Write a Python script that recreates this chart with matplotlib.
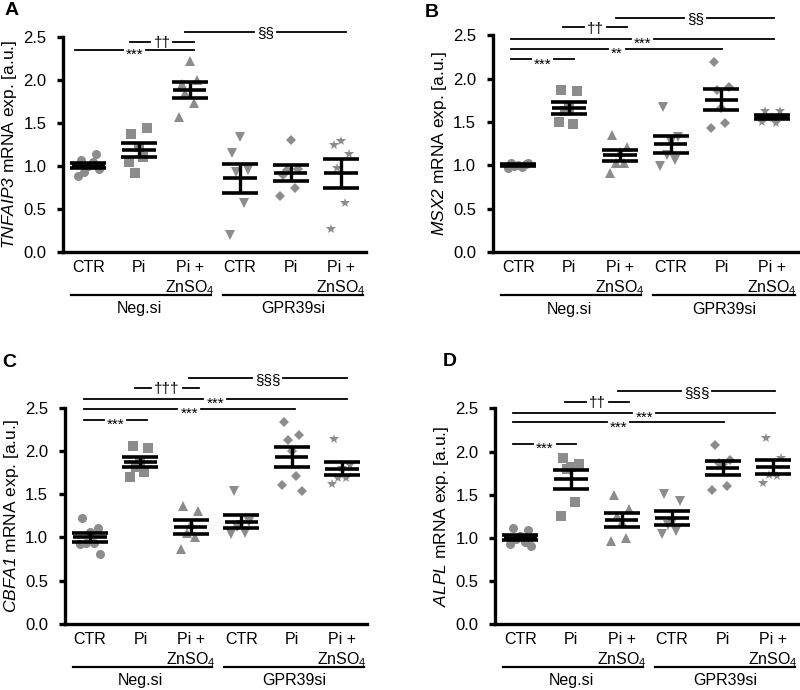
import numpy as np
import matplotlib.pyplot as plt

# Arial look-alike, gene names in italic through mathtext (sf slot = italic)
plt.rcParams['font.family'] = ['Liberation Sans', 'DejaVu Sans']
plt.rcParams['mathtext.fontset'] = 'custom'
plt.rcParams['mathtext.rm'] = 'Liberation Sans'
plt.rcParams['mathtext.it'] = 'Liberation Sans:italic'
plt.rcParams['mathtext.sf'] = 'Liberation Sans:italic'

# categories on the x axis (3 treatments for each siRNA group)
categories = ['CTR', 'Pi', 'Pi +\nZnSO$_4$', 'CTR', 'Pi', 'Pi +\nZnSO$_4$']
groups = ['Neg.si', 'GPR39si']
yticks = [0.0, 0.5, 1.0, 1.5, 2.0, 2.5]

# single replicates, one list per condition
tnfaip3 = [[1.0, 1.07, 1.14, 0.93, 1.05, 0.88, 0.97],
           [1.22, 1.37, 1.44, 0.92, 1.10, 1.05],
           [2.22, 1.95, 2.0, 1.85, 1.73, 1.57],
           [1.34, 1.15, 0.95, 0.93, 0.57, 0.20],
           [1.30, 0.90, 0.97, 0.95, 0.74, 0.65],
           [1.29, 1.24, 1.14, 0.98, 0.57, 0.27]]
msx2 = [[1.0, 1.02, 1.01, 0.99, 0.98, 0.97, 1.03],
        [1.66, 1.87, 1.86, 1.62, 1.48, 1.50],
        [1.15, 1.35, 1.21, 1.03, 1.03, 0.91],
        [1.27, 1.67, 1.33, 1.12, 1.06, 0.99],
        [1.66, 2.19, 1.90, 1.87, 1.49, 1.43],
        [1.56, 1.63, 1.62, 1.55, 1.49, 1.50]]
cbfa1 = [[1.06, 1.23, 1.11, 0.94, 0.93, 0.92, 0.81],
         [1.86, 2.06, 2.03, 1.82, 1.76, 1.70],
         [1.15, 1.36, 1.30, 1.05, 1.0, 0.86],
         [1.14, 1.54, 1.18, 1.12, 1.05, 1.04],
         [2.0, 2.34, 2.19, 2.13, 1.71, 1.61, 1.54],
         [1.80, 2.14, 1.84, 1.69, 1.69, 1.62]]
alpl = [[1.02, 1.11, 1.09, 0.99, 0.95, 0.93, 0.90],
        [1.82, 1.93, 1.85, 1.80, 1.41, 1.25],
        [1.18, 1.49, 1.33, 1.25, 1.0, 0.96],
        [1.17, 1.51, 1.43, 1.15, 1.08, 1.04],
        [1.85, 2.08, 1.90, 1.87, 1.60, 1.55],
        [1.74, 2.16, 1.93, 1.73, 1.72, 1.63]]

genes = ['TNFAIP3', 'MSX2', 'CBFA1', 'ALPL']
letters = ['A', 'B', 'C', 'D']

# significance lines: (start, end, height, label)
sig_A = [(-0.26, 2.08, 2.35, '***'), (0.83, 2.08, 2.45, '††'), (1.92, 5.10, 2.56, '§§')]
sig_B = [(-0.14, 1.10, 2.22, '***'), (-0.14, 4.02, 2.34, '**'), (-0.14, 5.04, 2.46, '***'),
         (0.89, 2.15, 2.59, '††'), (1.93, 5.04, 2.70, '§§')]
sig_C = [(-0.12, 1.13, 2.36, '***'), (-0.12, 4.06, 2.49, '***'), (-0.12, 5.09, 2.60, '***'),
         (0.89, 2.16, 2.73, '†††'), (1.96, 5.09, 2.84, '§§§')]
sig_D = [(-0.14, 1.10, 2.09, '***'), (-0.14, 4.02, 2.34, '***'), (-0.14, 5.04, 2.45, '***'),
         (0.89, 2.15, 2.58, '††'), (1.93, 5.04, 2.70, '§§§')]

data = [tnfaip3, msx2, cbfa1, alpl]
sigs = [sig_A, sig_B, sig_C, sig_D]

# axes boxes in figure fractions (left, bottom, width, height)
boxes = [[0.079, 0.635, 0.379, 0.311],
         [0.616, 0.635, 0.381, 0.314],
         [0.081, 0.096, 0.378, 0.313],
         [0.619, 0.096, 0.379, 0.312]]
letter_pos = [(0.006, 0.997), (0.531, 0.994), (0.003, 0.487), (0.553, 0.488)]

markers = ['o', 's', '^', 'v', 'D', '*']
msizes = [6.5, 6.5, 6.5, 6.5, 5.5, 7]
jitter = [0.0, -0.15, 0.15, -0.08, 0.08, -0.2, 0.2]
grey = '#8c8c8c'

fig = plt.figure(figsize=(8, 6.9), dpi=100)
renderer = fig.canvas.get_renderer()

for p in range(4):
    ax = fig.add_axes(boxes[p])
    values = data[p]
    ax.set_xlim(-0.5, 5.5)
    ax.set_ylim(0, 2.5)

    # replicate points
    for i, vals in enumerate(values):
        xs = [i + jitter[k] for k in range(len(vals))]
        ax.plot(xs, vals, linestyle='none', marker=markers[i], markersize=msizes[i],
                color=grey, markeredgewidth=0, clip_on=False, zorder=2)

    # mean and SEM
    for i, vals in enumerate(values):
        v = np.array(vals)
        m = v.mean()
        sem = v.std(ddof=1) / np.sqrt(len(v))
        ax.plot([i - 0.33, i + 0.33], [m, m], color='black', lw=2.6, zorder=3,
                solid_capstyle='butt')
        ax.errorbar(i, m, yerr=sem, fmt='none', ecolor='black', elinewidth=2.4,
                    capsize=13, capthick=2.6, zorder=3)

    # significance lines, broken around the symbol
    px_per_unit = ax.bbox.width / 6.0
    for x0, x1, y, txt in sigs[p]:
        xm = (x0 + x1) / 2
        drop = -6.5 if '*' in txt else -3.8
        t = ax.annotate(txt, xy=(xm, y), xytext=(0, drop), textcoords='offset points',
                        ha='center', va='baseline', fontsize=11, annotation_clip=False)
        half = (t.get_window_extent(renderer).width / 2 + 3) / px_per_unit
        ax.plot([x0, xm - half], [y, y], color='black', lw=1.3, clip_on=False)
        ax.plot([xm + half, x1], [y, y], color='black', lw=1.3, clip_on=False)

    # group lines and names under the category labels
    ax.plot([-0.34, 2.42], [-0.5, -0.5], color='black', lw=1.6, clip_on=False)
    ax.plot([2.66, 5.44], [-0.5, -0.5], color='black', lw=1.6, clip_on=False)
    ax.text(1.0, -0.66, groups[0], ha='center', va='center', fontsize=11.5)
    ax.text(4.05, -0.66, groups[1], ha='center', va='center', fontsize=11.5)

    ax.set_yticks(yticks)
    ax.set_yticklabels(['%.1f' % t for t in yticks], fontsize=12)
    ax.set_xticks(range(6))
    ax.set_xticklabels(categories, fontsize=11.5)
    ax.tick_params(axis='x', length=0, pad=6)
    ax.tick_params(axis='y', length=4, width=2.4, pad=8)
    for s in ['top', 'right']:
        ax.spines[s].set_visible(False)
    for s in ['left', 'bottom']:
        ax.spines[s].set_linewidth(2.4)
    ax.set_ylabel('$\\mathsf{' + genes[p] + '}$ mRNA exp. [a.u.]', fontsize=12.5, labelpad=3)

    fig.text(letter_pos[p][0], letter_pos[p][1], letters[p], fontsize=14,
             fontweight='bold', va='top', ha='left')

fig.savefig('out.png', dpi=100)
